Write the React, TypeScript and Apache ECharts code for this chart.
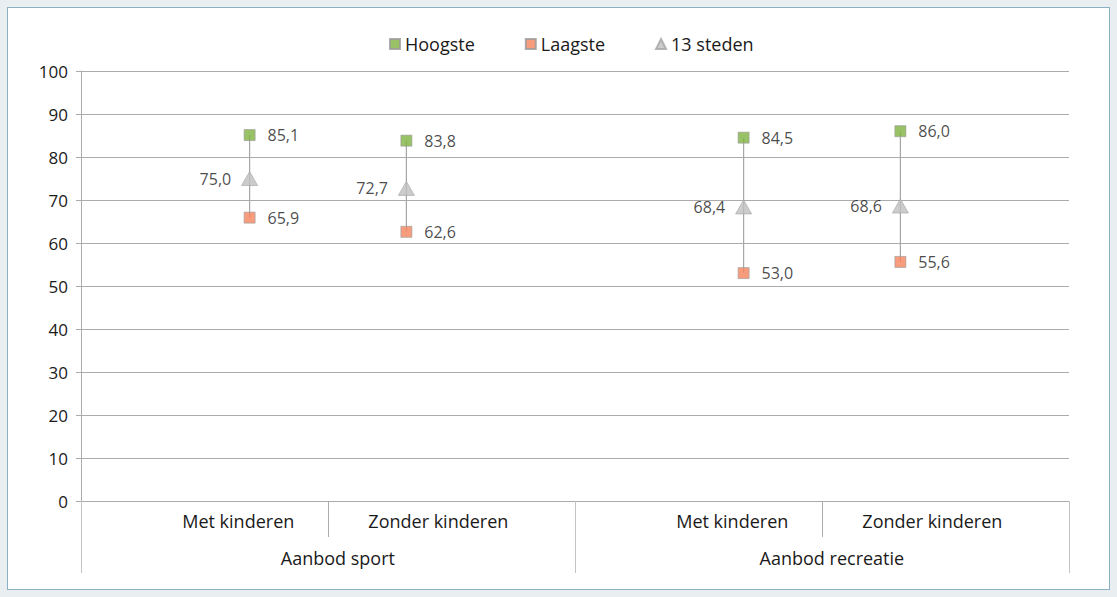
import React, { useEffect, useRef } from "react";
import * as echarts from "echarts";

const groups = ["Aanbod sport", "Aanbod recreatie"];
const subCategories = ["Met kinderen", "Zonder kinderen"];
// values per group, per subcategory
const highest = [
  [85.1, 83.8],
  [84.5, 86.0],
];
const lowest = [
  [65.9, 62.6],
  [53.0, 55.6],
];
const cities13 = [
  [75.0, 72.7],
  [68.4, 68.6],
];
const seriesNames = ["Hoogste", "Laagste", "13 steden"];
const yTicks = { min: 0, max: 100, interval: 10 };

const FONT = "'Open Sans', 'Noto Sans', sans-serif";
const TXT = "#1a1a1a";
const GRID = "#ababab";

// layout in axis units: each group spans 3 units
const GROUP_W = 3;
const HALF_SPREAD = 0.476;
const SUB_LABEL_SHIFT = [-0.545, 0.67];
const GROUP_LABEL_SHIFT = 0.06;

const xOf = (g: number, s: number) => g * GROUP_W + GROUP_W / 2 + (s - 0.5) * 2 * HALF_SPREAD;
const fmt = (v: number) => v.toFixed(1).replace(".", ",");

export default function App() {
  const ref = useRef<HTMLDivElement>(null);

  useEffect(() => {
    if (!ref.current) return;
    const chart = echarts.init(ref.current, undefined, { renderer: "svg" });

    const pts = (arr: number[][]) => {
      const out: number[][] = [];
      arr.forEach((row, g) => row.forEach((v, s) => out.push([xOf(g, s), v])));
      return out;
    };
    const ranges: number[][] = [];
    groups.forEach((_, g) =>
      subCategories.forEach((_, s) => ranges.push([xOf(g, s), lowest[g][s], highest[g][s]]))
    );

    const subLabelPos: number[] = [];
    const subLabelText: string[] = [];
    groups.forEach((_, g) =>
      subCategories.forEach((name, s) => {
        subLabelPos.push(g * GROUP_W + GROUP_W / 2 + SUB_LABEL_SHIFT[s]);
        subLabelText.push(name);
      })
    );
    const groupLabelPos = groups.map((_, g) => g * GROUP_W + GROUP_W / 2 + GROUP_LABEL_SHIFT);
    const subDividers = groups.map((_, g) => g * GROUP_W + GROUP_W / 2);
    const groupDividers = [0, ...groups.map((_, g) => (g + 1) * GROUP_W)];
    const xMax = groups.length * GROUP_W;

    const nearest = (pos: number[], labels: string[], v: number) => {
      let best = 0;
      pos.forEach((p, i) => {
        if (Math.abs(p - v) < Math.abs(pos[best] - v)) best = i;
      });
      return labels[best];
    };

    const numLabel = (position: string) => ({
      show: true,
      position,
      distance: 12,
      color: TXT,
      fontFamily: FONT,
      fontSize: 16,
      formatter: (p: any) => fmt(p.value[1]),
    });

    chart.setOption({
      animation: false,
      textStyle: { fontFamily: FONT },
      legend: {
        data: seriesNames,
        top: 30,
        left: 384,
        itemWidth: 10,
        itemHeight: 10,
        itemGap: 50,
        textStyle: { color: TXT, fontFamily: FONT, fontSize: 18 },
      },
      grid: { left: 81, right: 48, top: 71, bottom: 96 },
      xAxis: [
        {
          type: "value",
          min: 0,
          max: xMax,
          axisLine: { show: true, lineStyle: { color: GRID, width: 1 } },
          axisTick: { show: false },
          axisLabel: { show: false },
          splitLine: { show: false },
        },
        {
          type: "value",
          min: 0,
          max: xMax,
          position: "bottom",
          axisLine: { show: false },
          splitLine: { show: false },
          axisTick: {
            show: true,
            customValues: subDividers,
            length: 36,
            lineStyle: { color: GRID, width: 1 },
          },
          axisLabel: {
            show: true,
            customValues: subLabelPos,
            margin: 11,
            color: TXT,
            fontFamily: FONT,
            fontSize: 18,
            formatter: (v: number) => nearest(subLabelPos, subLabelText, v),
          },
        },
        {
          type: "value",
          min: 0,
          max: xMax,
          position: "bottom",
          axisLine: { show: false },
          splitLine: { show: false },
          axisTick: {
            show: true,
            customValues: groupDividers,
            length: 72,
            lineStyle: { color: "#c4c4c4", width: 1 },
          },
          axisLabel: {
            show: true,
            customValues: groupLabelPos,
            margin: 48,
            color: TXT,
            fontFamily: FONT,
            fontSize: 18,
            formatter: (v: number) => nearest(groupLabelPos, groups, v),
          },
        },
      ],
      yAxis: {
        type: "value",
        min: yTicks.min,
        max: yTicks.max,
        interval: yTicks.interval,
        axisLine: { show: true, lineStyle: { color: GRID, width: 1 } },
        axisTick: { show: true, length: 5, lineStyle: { color: GRID } },
        axisLabel: { margin: 13, color: TXT, fontFamily: FONT, fontSize: 17 },
        splitLine: { show: true, lineStyle: { color: GRID, width: 1 } },
      },
      series: [
        {
          type: "custom",
          name: "range",
          xAxisIndex: 0,
          z: 1,
          data: ranges,
          renderItem: (params: any, api: any) => {
            const a = api.coord([api.value(0), api.value(1)]);
            const b = api.coord([api.value(0), api.value(2)]);
            return {
              type: "line",
              shape: { x1: a[0], y1: a[1], x2: b[0], y2: b[1] },
              style: { stroke: "#a6a6a6", lineWidth: 1.2 },
            };
          },
        },
        {
          type: "scatter",
          name: seriesNames[0],
          z: 3,
          symbol: "rect",
          symbolSize: 11,
          itemStyle: { color: "#80b13f", borderColor: "#9a9a9a", borderWidth: 0.8 },
          data: pts(highest),
          label: numLabel("right"),
        },
        {
          type: "scatter",
          name: seriesNames[1],
          z: 3,
          symbol: "rect",
          symbolSize: 11,
          itemStyle: { color: "#f5845e", borderColor: "#9a9a9a", borderWidth: 0.8 },
          data: pts(lowest),
          label: numLabel("right"),
        },
        {
          type: "scatter",
          name: seriesNames[2],
          z: 2,
          symbol: "triangle",
          symbolSize: [16, 14],
          itemStyle: { color: "#bfbfbf", borderColor: "#a5a5a5", borderWidth: 0.8 },
          data: pts(cities13),
          label: { ...numLabel("left"), distance: 10 },
        },
      ],
    });

    return () => chart.dispose();
  }, []);

  return (
    <div style={{ position: "fixed", left: 0, top: 0, width: 1117, height: 597, background: "#e9eef1" }}>
      <div
        style={{
          position: "absolute",
          left: 7,
          top: 7,
          width: 1101,
          height: 581,
          border: "1px solid #8ab0c2",
          background: "#ffffff",
        }}
      />
      <div ref={ref} style={{ position: "absolute", left: 0, top: 0, width: 1117, height: 597 }} />
    </div>
  );
}
